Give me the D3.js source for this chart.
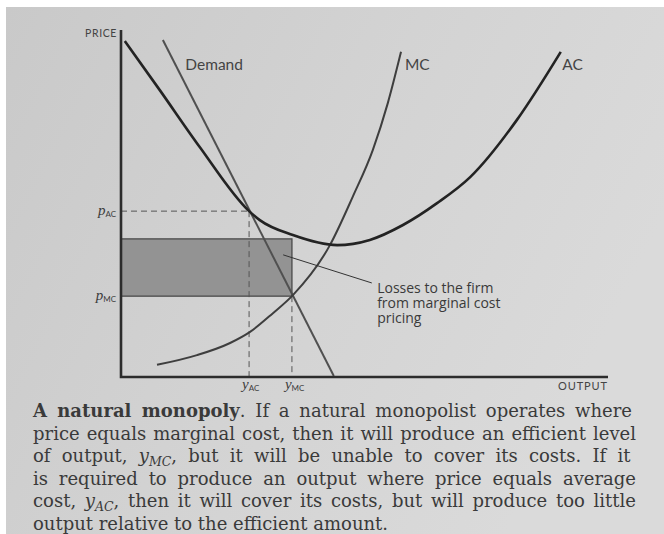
<!DOCTYPE html>
<html>
<head>
<meta charset="utf-8">
<script src="https://cdn.jsdelivr.net/npm/d3@7"></script>
<style>
  body { margin: 0; background: #fff; }
  svg { display: block; }
</style>
</head>
<body>
<div id="main"></div>
<script>
//curve points (output, price)
const acPoints = [[0.8, 96.8], [8.0, 82.6], [16.2, 66.2], [26.3, 47.8], [28.5, 45.2], [35.3, 40.9],
  [44.4, 38.0], [51.1, 39.5], [57.9, 43.8], [64.9, 50.1], [71.7, 57.6],
  [81.3, 74.1], [90.3, 93.7]];
const mcPoints = [[7.4, 3.5], [15.6, 6.3], [22.4, 9.8], [26.5, 13.0], [31.2, 18.4], [35.3, 23.6],
  [42.9, 38.0], [47.6, 52.0], [51.7, 65.4], [54.8, 79.0], [57.5, 93.7]];
const demandPoints = [[8.6, 97.1], [43.7, 0.3]];

//key levels
const yAC = 26.3, yMC = 35.1;
const pAC = 47.8, pMC = 23.3, acAtMC = 39.8;

const priceTicks = [{v: pAC, sub: 'AC'}, {v: pMC, sub: 'MC'}];
const outputTicks = [{v: yAC, sub: 'AC'}, {v: yMC, sub: 'MC'}];

const curveLabels = [
  {text: 'Demand', x: 13.2, y: 88.5},
  {text: 'MC', x: 58.3, y: 88.5},
  {text: 'AC', x: 90.6, y: 88.5}
];
const lossNote = ['Losses to the firm', 'from marginal cost', 'pricing'];
const lossPointer = [[33.3, 35.2], [51.5, 27.1]];

const caption = [
  [{t: 'A natural monopoly', b: 1}, {t: '.  If a natural monopolist operates where'}],
  [{t: 'price equals marginal cost, then it will produce an efficient level'}],
  [{t: 'of output, '}, {t: 'y', i: 1}, {t: 'MC', i: 1, sub: 1}, {t: ', but it will be unable to cover its costs.  If it'}],
  [{t: 'is required to produce an output where price equals average'}],
  [{t: 'cost, '}, {t: 'y', i: 1}, {t: 'AC', i: 1, sub: 1}, {t: ', then it will cover its costs, but will produce too little'}],
  [{t: 'output relative to the efficient amount.'}]
];

//constants
const W = 664, H = 534;
const x = d3.scaleLinear().domain([0, 100]).range([121, 608]);
const y = d3.scaleLinear().domain([0, 100]).range([377, 30]);

const svg = d3.select('#main')
  .append('svg')
  .attr('width', W)
  .attr('height', H);

const defs = svg.append('defs');
const grad = defs.append('linearGradient')
  .attr('id', 'paper')
  .attr('x1', 0).attr('y1', 0).attr('x2', 1).attr('y2', 0.4);
grad.append('stop').attr('offset', 0).attr('stop-color', '#c9c9c9');
grad.append('stop').attr('offset', 0.55).attr('stop-color', '#d3d3d3');
grad.append('stop').attr('offset', 1).attr('stop-color', '#dadada');

svg.append('rect')
  .attr('x', 6).attr('y', 7)
  .attr('width', W - 6).attr('height', H - 7)
  .attr('fill', 'url(#paper)');

const font = 'Lato, "Open Sans", sans-serif';

//loss rectangle
svg.append('rect')
  .attr('x', x(0))
  .attr('y', y(acAtMC))
  .attr('width', x(yMC) - x(0))
  .attr('height', y(pMC) - y(acAtMC))
  .attr('fill', '#939393')
  .attr('stroke', '#4a4a4a')
  .attr('stroke-width', 1.3);

//dashed guides
const dash = svg.append('g')
  .attr('stroke', '#555')
  .attr('stroke-width', 1)
  .attr('stroke-dasharray', '6,4')
  .attr('fill', 'none');
dash.append('line')
  .attr('x1', x(0)).attr('x2', x(yAC))
  .attr('y1', y(pAC)).attr('y2', y(pAC));
dash.append('line')
  .attr('x1', x(yAC)).attr('x2', x(yAC))
  .attr('y1', y(pAC)).attr('y2', y(0));
dash.append('line')
  .attr('x1', x(yMC)).attr('x2', x(yMC))
  .attr('y1', y(pMC)).attr('y2', y(0));

//curves
const line = d3.line()
  .x(d => x(d[0]))
  .y(d => y(d[1]))
  .curve(d3.curveMonotoneX);

svg.append('path')
  .attr('d', d3.line().x(d => x(d[0])).y(d => y(d[1]))(demandPoints))
  .attr('fill', 'none')
  .attr('stroke', '#505050')
  .attr('stroke-width', 2);

svg.append('path')
  .attr('d', line(mcPoints))
  .attr('fill', 'none')
  .attr('stroke', '#3e3e3e')
  .attr('stroke-width', 2);

svg.append('path')
  .attr('d', line(acPoints))
  .attr('fill', 'none')
  .attr('stroke', '#232323')
  .attr('stroke-width', 2.6);

//axes
svg.append('path')
  .attr('d', `M${x(0)},${y(100)}V${y(0)}H${x(100)}`)
  .attr('fill', 'none')
  .attr('stroke', '#2c2c2c')
  .attr('stroke-width', 2.6);

svg.append('text')
  .attr('x', x(0) - 4).attr('y', 37)
  .attr('text-anchor', 'end')
  .style('font-family', font)
  .style('font-size', '10.5px')
  .style('letter-spacing', '0.6px')
  .attr('fill', '#444')
  .text('PRICE');

svg.append('text')
  .attr('x', x(100)).attr('y', 390)
  .attr('text-anchor', 'end')
  .style('font-family', font)
  .style('font-size', '11px')
  .style('letter-spacing', '0.9px')
  .attr('fill', '#444')
  .text('OUTPUT');

//tick labels
const tickText = (sel, letter) => {
  sel.append('tspan')
    .style('font-family', '"Liberation Serif", serif')
    .style('font-style', 'italic')
    .style('font-size', '15px')
    .text(letter);
  sel.append('tspan')
    .attr('dy', 2)
    .style('font-size', '8px')
    .text(d => d.sub);
};

svg.selectAll('.ptick')
  .data(priceTicks)
  .enter()
  .append('text')
  .attr('class', 'ptick')
  .attr('x', x(0) - 5)
  .attr('y', d => y(d.v) + 4)
  .attr('text-anchor', 'end')
  .style('font-family', font)
  .attr('fill', '#3c3c3c')
  .call(tickText, 'p');

svg.selectAll('.otick')
  .data(outputTicks)
  .enter()
  .append('text')
  .attr('class', 'otick')
  .attr('x', d => x(d.v) - 7)
  .attr('y', 389)
  .style('font-family', font)
  .attr('fill', '#3c3c3c')
  .call(tickText, 'y');

//curve labels
svg.selectAll('.clabel')
  .data(curveLabels)
  .enter()
  .append('text')
  .attr('class', 'clabel')
  .attr('x', d => x(d.x))
  .attr('y', d => y(d.y))
  .style('font-family', font)
  .style('font-size', '15.5px')
  .attr('fill', '#444')
  .text(d => d.text);

//loss annotation
svg.append('path')
  .attr('d', d3.line().x(d => x(d[0])).y(d => y(d[1]))(lossPointer))
  .attr('stroke', '#333')
  .attr('stroke-width', 1)
  .attr('fill', 'none');

svg.append('text')
  .attr('x', x(52.6))
  .attr('y', 293)
  .style('font-family', '"Open Sans", Lato, sans-serif')
  .style('font-size', '14px')
  .attr('fill', '#3a3a3a')
  .selectAll('tspan')
  .data(lossNote)
  .enter()
  .append('tspan')
  .attr('x', x(52.6))
  .attr('dy', (d, i) => i === 0 ? 0 : 15)
  .text(d => d);

//caption, justified with word spacing
const cap = svg.append('g')
  .style('font-family', '"DejaVu Serif", "Liberation Serif", serif')
  .style('font-size', '18px')
  .attr('fill', '#3a3a3a');

const capLeft = 33, capWidth = 603;
caption.forEach((segs, i) => {
  const t = cap.append('text')
    .attr('x', capLeft)
    .attr('y', 417 + i * 22.6);
  segs.forEach((s, j) => {
    const prevSub = j > 0 && segs[j - 1].sub;
    const ts = t.append('tspan').text(s.t);
    if (s.b) ts.style('font-weight', 'bold');
    if (s.i) ts.style('font-style', 'italic');
    if (s.sub) ts.attr('dy', 4).style('font-size', '12.5px');
    else if (prevSub) ts.attr('dy', -4);
  });
  if (i < caption.length - 1) {
    const natural = t.node().getComputedTextLength();
    const spaces = segs.map(s => s.t).join('').split(' ').length - 1;
    t.style('word-spacing', ((capWidth - natural) / spaces) + 'px');
  }
});
</script>
</body>
</html>
